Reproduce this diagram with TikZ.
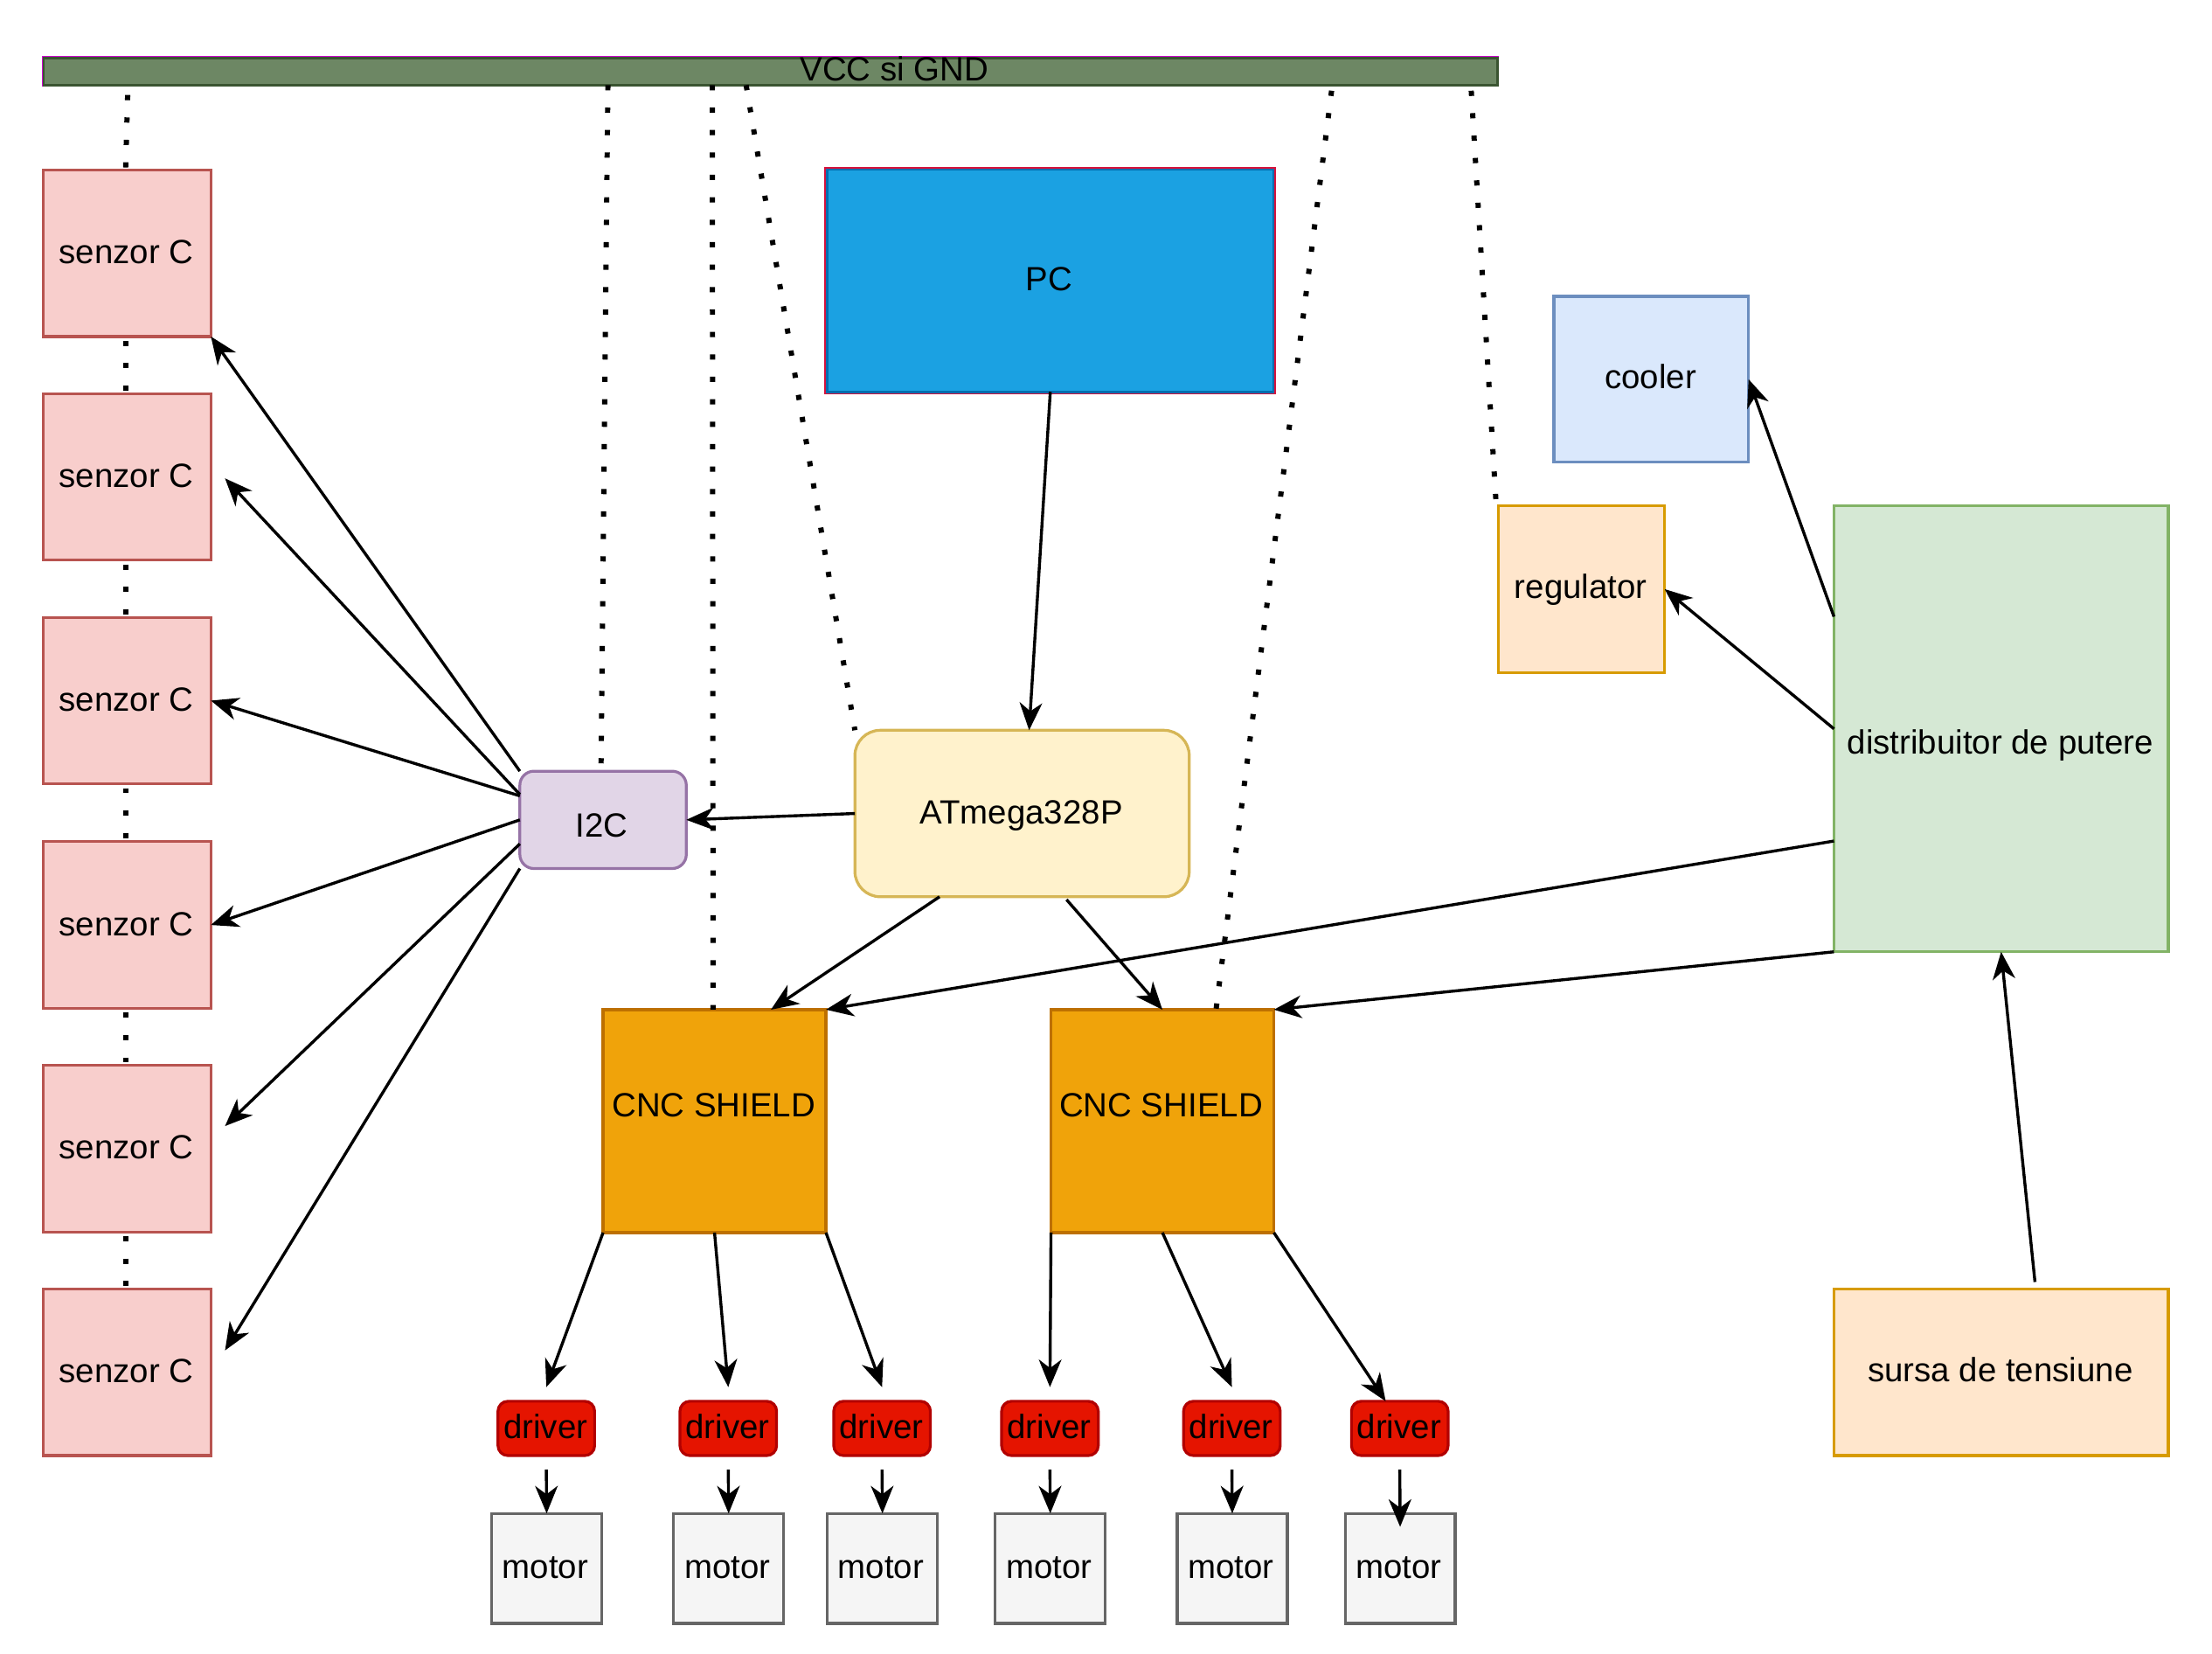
\documentclass[tikz,border=0pt]{standalone}
\usepackage{fontspec}
\setmainfont{Liberation Sans}
\usetikzlibrary{arrows.meta,calc}
\tikzset{
  box/.style={draw,line width=2pt,inner sep=0pt,outer sep=0pt,font=\fontsize{23.8}{28}\selectfont},
  bar/.style={box,fill=barF,draw=barD},
  sensor/.style={box,fill=senF,draw=senD},
  bus/.style={box,fill=i2cF,draw=i2cD,rounded corners=10pt},
  mcu/.style={box,fill=mcuF,draw=mcuD,rounded corners=18pt},
  pcedge/.style={draw=pcR,line width=1.2pt,inner sep=0pt,outer sep=0pt},
  pcbox/.style={box,fill=pcF,draw=pcD,line width=1.6pt},
  coolerbox/.style={box,fill=coolF,draw=coolD},
  orangebox/.style={box,fill=orF,draw=orD},
  distbox/.style={box,fill=distF,draw=distD},
  shield/.style={box,fill=cncF,draw=cncD},
  drv/.style={box,fill=drvF,draw=drvD,rounded corners=7pt},
  mot/.style={box,fill=motF,draw=motD},
  lbl/.style={inner sep=0pt,font=\fontsize{23.8}{28}\selectfont},
  arr/.style={line width=2.1pt,-{Stealth[length=19.5pt,width=16pt,inset=6pt]}},
  dots/.style={line width=3.7pt,dash pattern=on 3.7pt off 12.2pt},
}
\definecolor{barF}{HTML}{6D8764}\definecolor{barD}{HTML}{3A5431}
\definecolor{barM}{HTML}{CC00CC}\definecolor{pcR}{HTML}{D8123C}
\definecolor{senF}{HTML}{F8CECC}\definecolor{senD}{HTML}{B85450}
\definecolor{i2cF}{HTML}{E1D5E7}\definecolor{i2cD}{HTML}{9673A6}
\definecolor{mcuF}{HTML}{FFF2CC}\definecolor{mcuD}{HTML}{D6B656}
\definecolor{pcF}{HTML}{1BA1E2}\definecolor{pcD}{HTML}{006EAF}
\definecolor{coolF}{HTML}{DAE8FC}\definecolor{coolD}{HTML}{6C8EBF}
\definecolor{orF}{HTML}{FFE6CC}\definecolor{orD}{HTML}{D79B00}
\definecolor{distF}{HTML}{D5E8D4}\definecolor{distD}{HTML}{82B366}
\definecolor{cncF}{HTML}{F0A30A}\definecolor{cncD}{HTML}{BD7000}
\definecolor{drvF}{HTML}{E51400}\definecolor{drvD}{HTML}{B20000}
\definecolor{motF}{HTML}{F5F5F5}\definecolor{motD}{HTML}{666666}
% name, style, x1, y1, x2, y2, text (outline inset by half a unit)
\newcommand{\bx}[7]{\node[#2,minimum width={(#5-#3-1)*1pt},minimum height={(#6-#4-1)*1pt}] (#1) at ({(#3+#5)/2},{(#4+#6)/2}) {#7};}
% text with horizontal shift (doubled) and baseline offset below the box centre
\newcommand{\tx}[3]{\smash{\raisebox{-#2pt}{\hspace*{#1pt}#3}}}
\begin{document}
\begin{tikzpicture}[x=1pt,y=-1pt]
\useasboundingbox (0,0) rectangle (1568,1171.6);
\bx{bus}{bar}{30.4}{40.5}{1062}{60.8}{}
\draw[barM,line width=0.7pt] ($(bus.south west)+(-1.1,0.8)$) -- ($(bus.north west)+(-1.1,-1.1)$) -- ($(bus.north east)+(0.8,-1.1)$);
\node[lbl] (vcc) at (634,49) {VCC si GND};
\bx{s1}{sensor}{30}{120}{150}{239}{\tx{-1}{7.4}{senzor C}}
\bx{s2}{sensor}{30}{278.5}{150}{397.5}{\tx{-1}{7.4}{senzor C}}
\bx{s3}{sensor}{30}{437}{150}{556}{\tx{-1}{7.4}{senzor C}}
\bx{s4}{sensor}{30}{596}{150}{715}{\tx{-1}{7.4}{senzor C}}
\bx{s5}{sensor}{30}{754.5}{150}{873.5}{\tx{-1}{7.4}{senzor C}}
\bx{s6}{sensor}{30}{913}{150}{1032}{\tx{-1}{7.4}{senzor C}}
\bx{i2c}{bus}{368}{546}{487}{616}{\tx{-2}{12.4}{I2C}}
\bx{mcu}{mcu}{605.5}{517}{843.5}{636}{\tx{-1}{7.3}{ATmega328P}}
\bx{pcr}{pcedge}{584.5}{118.5}{904.5}{279.5}{}
\bx{pc}{pcbox}{585.8}{119.8}{903.2}{278.2}{\tx{-2}{6.9}{PC}}
\bx{cool}{coolerbox}{1101}{209.5}{1240}{328}{\tx{-1}{6.9}{cooler}}
\bx{reg}{orangebox}{1061.5}{358}{1180.5}{477}{\tx{-1}{6.5}{regulator}}
\bx{dist}{distbox}{1299.5}{358}{1537.5}{675}{\tx{-1}{18}{distribuitor de putere}}
\bx{src}{orangebox}{1299.5}{913}{1537.5}{1032}{\tx{-1}{6.9}{sursa de tensiune}}
\bx{c1}{shield}{427}{715}{586}{874}{\tx{-1}{-3.2}{CNC SHIELD}}
\bx{c2}{shield}{744.5}{715}{903.5}{874}{\tx{-2}{-3.2}{CNC SHIELD}}
\bx{d1}{drv}{352.5}{992.5}{422}{1032}{\tx{-1}{7.4}{driver}}
\bx{d2}{drv}{481.5}{992.5}{551}{1032}{\tx{-1}{7.4}{driver}}
\bx{d3}{drv}{590.5}{992.5}{660}{1032}{\tx{-1}{7.4}{driver}}
\bx{d4}{drv}{709.5}{992.5}{779}{1032}{\tx{-1}{7.4}{driver}}
\bx{d5}{drv}{838.5}{992.5}{908}{1032}{\tx{-1}{7.4}{driver}}
\bx{d6}{drv}{957.5}{992.5}{1027}{1032}{\tx{-1}{7.4}{driver}}
\bx{m1}{mot}{348}{1072}{427}{1151}{\tx{-2}{6.9}{motor}}
\bx{m2}{mot}{477}{1072}{556}{1151}{\tx{-2}{6.9}{motor}}
\bx{m3}{mot}{586}{1072}{665}{1151}{\tx{-2}{6.9}{motor}}
\bx{m4}{mot}{705}{1072}{784}{1151}{\tx{-2}{6.9}{motor}}
\bx{m5}{mot}{834}{1072}{913}{1151}{\tx{-2}{6.9}{motor}}
\bx{m6}{mot}{953}{1072}{1032}{1151}{\tx{-2}{6.9}{motor}}
% dotted supply lines
\draw[dots] ($(bus.south west)+(59.6,7)$) -- ($(s1.north)+(-1,0)$);
\draw[dots] ($(s1.south)+(-1,3)$) -- ($(s2.north)+(-1,0)$);
\draw[dots] ($(s2.south)+(-1,3)$) -- ($(s3.north)+(-1,0)$);
\draw[dots] ($(s3.south)+(-1,3)$) -- ($(s4.north)+(-1,0)$);
\draw[dots] ($(s4.south)+(-1,3)$) -- ($(s5.north)+(-1,0)$);
\draw[dots] ($(s5.south)+(-1,3)$) -- ($(s6.north)+(-1,0)$);
\draw[dots] ($(bus.south west)+(400,0)$) -- ($(i2c.north)+(-1.5,0)$);
\draw[dots] ($(bus.south west)+(474,0)$) -- ($(c1.north)+(-1,0)$);
\draw[dots] ($(bus.south west)+(498,0)$) -- (mcu.north west);
\draw[dots] ($(bus.south west)+(913,4)$) -- ($(c2.north)+(38,0)$);
\draw[dots] ($(bus.south west)+(1012,4)$) -- ($(reg.north west)+(-1.5,-2)$);
% arrows
\draw[arr] (pc.south) -- ($(mcu.north)+(5,0)$);
\draw[arr] (mcu.west) -- ($(i2c.east)+(0,0)$);
\draw[arr] ($(mcu.south west)+(60,0)$) -- ($(c1.north)+(40,0)$);
\draw[arr] ($(mcu.south west)+(150,2)$) -- (c2.north);
\draw[arr] (i2c.north west) -- (s1.south east);
\draw[arr] ($(i2c.west)+(0,-18)$) -- ($(s2.east)+(10,1)$);
\draw[arr] ($(i2c.west)+(0,-17)$) -- (s3.east);
\draw[arr] (i2c.west) -- (s4.east);
\draw[arr] ($(i2c.west)+(0,17)$) -- ($(s5.east)+(10,-16)$);
\draw[arr] (i2c.south west) -- ($(s6.east)+(10,-15.5)$);
\draw[arr] ($(dist.west)+(0,79.5)$) -- (c1.north east);
\draw[arr] (dist.south west) -- (c2.north east);
\draw[arr] ($(dist.west)+(0,-79.5)$) -- (cool.east);
\draw[arr] (dist.west) -- (reg.east);
\draw[arr] ($(src.north)+(24,-5)$) -- (dist.south);
\draw[arr] (c1.south west) -- ($(d1.north)+(0,-10)$);
\draw[arr] (c1.south) -- ($(d2.north)+(0,-10)$);
\draw[arr] (c1.south east) -- ($(d3.north)+(0,-10)$);
\draw[arr] (c2.south west) -- ($(d4.north)+(0,-10)$);
\draw[arr] (c2.south) -- ($(d5.north)+(0,-10)$);
\draw[arr] (c2.south east) -- ($(d6.north)+(-10,0)$);
\draw[arr] ($(d1.south)+(0,10)$) -- (m1.north);
\draw[arr] ($(d2.south)+(0,10)$) -- (m2.north);
\draw[arr] ($(d3.south)+(0,10)$) -- (m3.north);
\draw[arr] ($(d4.south)+(0,10)$) -- (m4.north);
\draw[arr] ($(d5.south)+(0,10)$) -- (m5.north);
\draw[arr] ($(d6.south)+(0,10)$) -- ($(m6.north)+(0,9.5)$);
\end{tikzpicture}
\end{document}
